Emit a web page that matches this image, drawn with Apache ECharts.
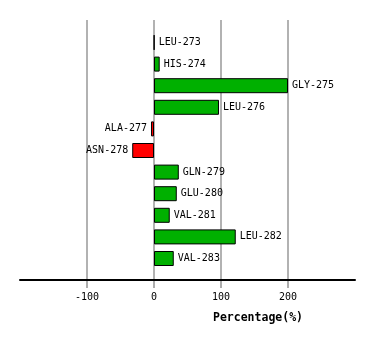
<!DOCTYPE html>
<html><head><meta charset="utf-8">
<script src="https://cdn.jsdelivr.net/npm/echarts@6/dist/echarts.min.js"></script>
<style>html,body{margin:0;padding:0;background:#fff}#c{width:374px;height:340px}</style>
</head><body><div id="c"></div>
<script>
const categories = ['LEU-273','HIS-274','GLY-275','LEU-276','ALA-277','ASN-278','GLN-279','GLU-280','VAL-281','LEU-282','VAL-283'];
const values = [0.4, 8.5, 200, 97, -4.5, -32.5, 37, 34, 23.5, 122, 29.5];
const tickValues = [-100, 0, 100, 200];
const axisMin = -200, axisMax = 300;
const tickMin = -100, tickMax = 200;
const axisName = 'Percentage(%)';
const FONT = '"DejaVu Sans Mono", monospace';

const L = 20, W = 335;
const pxPer = W / (axisMax - axisMin);
const TL = L + (tickMin - axisMin) * pxPer, TW = (tickMax - tickMin) * pxPer;
const chart = echarts.init(document.getElementById('c'), null, {renderer:'canvas'});
chart.setOption({
  animation: false,
  backgroundColor: '#fff',
  title: {text: axisName, left: 208, top: 307, textStyle: {fontFamily: FONT, fontSize: 11.5, fontWeight: 'bold', color: '#000'}},
  grid: [
    {left: L, width: W, top: 20, bottom: 60},
    {left: L, width: W, top: 31.7, height: 237.6},
    {left: TL, width: TW, top: 20, bottom: 60},
    {left: L, width: W, top: 281, height: 7}
  ],
  xAxis: [
    {gridIndex: 0, type: 'value', min: axisMin, max: axisMax, z: 5,
     axisLine: {show: true, onZero: false, lineStyle: {color: '#000', width: 2}},
     axisTick: {show: false}, axisLabel: {show: false}, splitLine: {show: false}},
    {gridIndex: 1, type: 'value', min: axisMin, max: axisMax, show: false},
    {gridIndex: 2, type: 'value', min: tickMin, max: tickMax, interval: 100,
     axisLine: {show: false, onZero: false},
     axisTick: {show: false},
     axisLabel: {margin: 12, fontFamily: FONT, fontSize: 10, color: '#000'},
     splitLine: {show: true, lineStyle: {color: '#999', width: 1.5}}},
    {gridIndex: 3, type: 'value', min: axisMin, max: axisMax, show: false}
  ],
  yAxis: [
    {gridIndex: 0, type: 'value', show: false},
    {gridIndex: 1, type: 'category', data: categories, inverse: true, show: false},
    {gridIndex: 2, type: 'value', show: false},
    {gridIndex: 3, type: 'value', min: 0, max: 1, show: false}
  ],
  series: [{
    type: 'bar', xAxisIndex: 1, yAxisIndex: 1, barWidth: 15, z: 3,
    data: values.map(v => ({value: v, itemStyle: {color: v < 0 ? '#ff0000' : '#00b000'},
      label: {position: v < 0 ? 'left' : 'right'}})),
    itemStyle: {borderColor: '#000', borderWidth: 1},
    label: {show: true, distance: 4, formatter: p => categories[p.dataIndex], fontFamily: FONT, fontSize: 10, color: '#000'}
  }, {
    type: 'scatter', xAxisIndex: 3, yAxisIndex: 3, symbol: 'rect', symbolSize: [2, 7],
    itemStyle: {color: '#999'}, silent: true, clip: false,
    data: tickValues.map(v => [v, 0.5])
  }]
});
</script></body></html>
